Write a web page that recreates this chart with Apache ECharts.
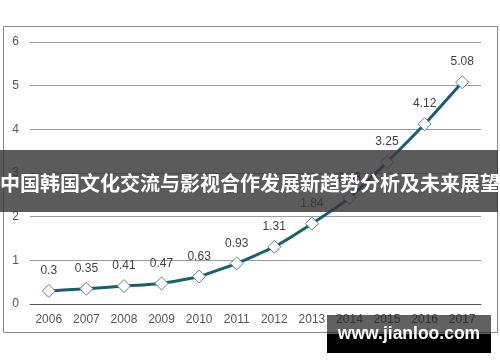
<!DOCTYPE html>
<html><head><meta charset="utf-8">
<script src="https://cdn.jsdelivr.net/npm/echarts@6/dist/echarts.min.js"></script>
<style>html,body{margin:0;padding:0;background:#fff}#c{width:500px;height:362px}</style>
</head><body><div id="c"></div>
<script>
const years = ['2006','2007','2008','2009','2010','2011','2012','2013','2014','2015','2016','2017'];
const values = [0.3, 0.35, 0.41, 0.47, 0.63, 0.93, 1.31, 1.84, 2.43, 3.25, 4.12, 5.08];
const yTicks = [0, 1, 2, 3, 4, 5, 6];
const bannerTitle = '中国韩国文化交流与影视合作发展新趋势分析及未来展望';
const watermark = 'www.jianloo.com';

const chart = echarts.init(document.getElementById('c'), null, {renderer: 'canvas'});
chart.setOption({
  animation: false,
  backgroundColor: '#fff',
  grid: {left: 30, right: 19, top: 42, bottom: 58},
  xAxis: {
    type: 'category', data: years, boundaryGap: true,
    axisLine: {lineStyle: {color: '#555', width: 1}},
    axisTick: {show: false},
    axisLabel: {color: '#555', fontSize: 12, fontFamily: 'Liberation Sans', margin: 10}
  },
  yAxis: {
    type: 'value', min: yTicks[0], max: yTicks[yTicks.length - 1], interval: 1,
    axisLine: {show: false}, axisTick: {show: false},
    axisLabel: {color: '#555', fontSize: 12, fontFamily: 'Liberation Sans', margin: 11},
    splitLine: {lineStyle: {color: '#9a9a9a', width: 1}}
  },
  series: [{
    type: 'line', data: values, smooth: 0.15,
    lineStyle: {color: '#19606d', width: 3},
    symbol: 'diamond', symbolSize: 13,
    itemStyle: {color: '#fff', borderColor: '#5d7f86', borderWidth: 1},
    label: {show: true, position: 'top', distance: 7, color: '#404040', fontSize: 12, fontFamily: 'Liberation Sans'}
  }],
  graphic: [
    {type: 'rect', shape: {x: 3.5, y: 26.5, width: 494, height: 306}, style: {fill: 'none', stroke: '#888', lineWidth: 1}, z: 100},
    {type: 'rect', shape: {x: 0, y: 150, width: 498, height: 62}, style: {fill: 'rgba(55,55,55,0.82)'}, z: 101},
    {type: 'text', x: 0, y: 183, style: {text: bannerTitle, fill: '#fff', fontSize: 20, fontWeight: 'bold', fontFamily: 'Noto Sans CJK SC', align: 'left', verticalAlign: 'middle'}, z: 102},
    {type: 'rect', shape: {x: 327, y: 315, width: 164, height: 19}, style: {fill: 'rgba(30,30,30,0.7)'}, z: 101},
    {type: 'rect', shape: {x: 327, y: 334, width: 164, height: 19}, style: {fill: '#000'}, z: 101},
    {type: 'text', x: 409, y: 334, style: {text: watermark, fill: '#fff', fontSize: 17.5, fontWeight: 'bold', fontFamily: 'Liberation Sans', align: 'center', verticalAlign: 'middle'}, z: 102}
  ]
});
</script></body></html>
